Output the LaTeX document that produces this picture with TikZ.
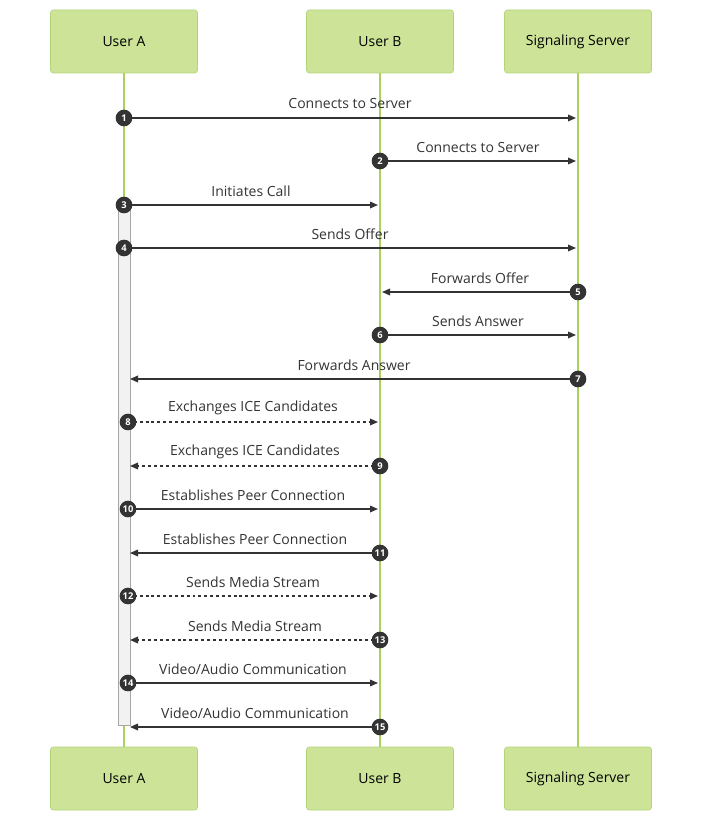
\documentclass[tikz,border=0pt]{standalone}
\usepackage{fontspec}
\setmainfont{Open Sans}
\usetikzlibrary{arrows.meta}
\definecolor{boxfill}{HTML}{CDE498}
\definecolor{boxline}{HTML}{B2D57A}
\definecolor{life}{HTML}{A9D15E}
\definecolor{dk}{HTML}{333333}
\begin{document}
\begin{tikzpicture}[x=0.75pt,y=-0.75pt,
 actor/.style={draw=boxline,fill=boxfill,rounded corners=2pt,minimum width=110.25pt,minimum height=47.25pt,font=\fontsize{10.5pt}{12pt}\selectfont,text=black},
 msg/.style={draw=dk,line width=0.9pt,-{Triangle[length=6pt,width=5pt]}},
 dmsg/.style={msg,dash pattern=on 2.2pt off 2.2pt},
 num/.style={circle,fill=dk,text=white,inner sep=0pt,minimum size=12.5pt,font=\bfseries\fontsize{7pt}{8pt}\selectfont},
 lab/.style={font=\fontsize{10.5pt}{12pt}\selectfont,text=dk}]
\useasboundingbox (0,0) rectangle (710,831);
\node[actor] (a) at (124,41.5) {User A};
\node[actor] (b) at (380,41.5) {User B};
\node[actor] (s) at (578,41.5) {Signaling Server};
\node[actor] (a2) at (124,778.5) {User A};
\node[actor] (b2) at (380,778.5) {User B};
\node[actor] (s2) at (578,778.5) {Signaling Server};
\foreach \p in {a,b,s}{\draw[life,line width=1.2pt] (\p.south) -- (\p2.north);}
\draw[draw=gray!70,fill=gray!10] (118,205) rectangle (130,725);
% x positions: A=124 (A act edge 130), B=380, S=578
\def\M#1#2#3#4#5#6{% y, from x, to x, label, style, number
 \coordinate (f#6) at (#2,#1); \coordinate (t#6) at (#3,#1);
 \draw[#5] (f#6) -- (t#6);
 \node[lab] at ({(#2+#3)/2},#1-14) {#4};
 \node[num] at (f#6) {#6};}
\M{118}{124}{576}{Connects to Server}{msg}{1}
\M{161}{380}{576}{Connects to Server}{msg}{2}
\M{205}{124}{378}{Initiates Call}{msg}{3}
\M{248}{124}{576}{Sends Offer}{msg}{4}
\M{292}{578}{382}{Forwards Offer}{msg}{5}
\M{335}{380}{576}{Sends Answer}{msg}{6}
\M{379}{578}{130}{Forwards Answer}{msg}{7}
\M{422}{128}{378}{Exchanges ICE Candidates}{dmsg}{8}
\M{466}{380}{130}{Exchanges ICE Candidates}{dmsg}{9}
\M{509}{128}{378}{Establishes Peer Connection}{msg}{10}
\M{553}{380}{130}{Establishes Peer Connection}{msg}{11}
\M{596}{128}{378}{Sends Media Stream}{dmsg}{12}
\M{640}{380}{130}{Sends Media Stream}{dmsg}{13}
\M{683}{128}{378}{Video/Audio Communication}{msg}{14}
\M{727}{380}{130}{Video/Audio Communication}{msg}{15}
\end{tikzpicture}
\end{document}
